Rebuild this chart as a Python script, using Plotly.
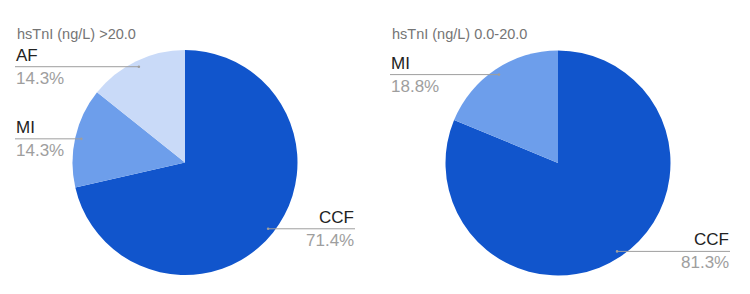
import math
import plotly.graph_objects as go

W, H = 750, 294

titles = ["hsTnI (ng/L) >20.0", "hsTnI (ng/L) 0.0-20.0"]
left_labels = ["CCF", "MI", "AF"]
left_values = [5, 1, 1]
left_pct = ["71.4%", "14.3%", "14.3%"]
right_labels = ["CCF", "MI"]
right_values = [13, 3]
right_pct = ["81.3%", "18.8%"]
colors = {"CCF": "#1155cc", "MI": "#6d9eeb", "AF": "#c9daf8"}

# layout geometry (pixels)
panel_x = [0, 375]
centers = [(185, 162.5), (558, 163)]
R = 112.5
label_left_off = 15
label_right_off = 355

fig = go.Figure()
shapes = []
annotations = []

def px(x):
    return x / W

def py(y):
    return 1 - y / H

panels = [(left_labels, left_values, left_pct), (right_labels, right_values, right_pct)]
for i, (labs, vals, pcts) in enumerate(panels):
    cx, cy = centers[i]
    fig.add_trace(go.Pie(
        labels=labs, values=vals, sort=False, direction="clockwise", rotation=0,
        marker=dict(colors=[colors[l] for l in labs], line=dict(width=0)),
        textinfo="none", hoverinfo="label+percent", showlegend=False,
        domain=dict(x=[px(cx - R), px(cx + R)], y=[py(cy + R), py(cy - R)]),
    ))
    annotations.append(dict(
        text=titles[i], x=px(panel_x[i] + label_left_off), y=py(24), xref="paper", yref="paper",
        xanchor="left", yanchor="top", showarrow=False,
        font=dict(family="Liberation Sans, Arial", size=14.5, color="#757575"),
    ))
    total = sum(vals)
    cum = 0
    for lab, v, pct in zip(labs, vals, pcts):
        mid = (cum + v / 2) / total * 2 * math.pi
        cum += v
        d = 0.945 * R
        dx, dy = math.sin(mid) * d, -math.cos(mid) * d
        x0, y0 = cx + dx, cy + dy
        if dx < 0:
            xl = panel_x[i] + label_left_off
            anchor = "left"
        else:
            xl = panel_x[i] + label_right_off
            anchor = "right"
        shapes.append(dict(type="line", xref="paper", yref="paper",
                           x0=px(x0), y0=py(y0), x1=px(xl), y1=py(y0),
                           line=dict(color="#9e9e9e", width=1)))
        shapes.append(dict(type="circle", xref="paper", yref="paper",
                           x0=px(x0 - 1.3), y0=py(y0 - 1.3), x1=px(x0 + 1.3), y1=py(y0 + 1.3),
                           fillcolor="#9e9e9e", line=dict(width=0)))
        annotations.append(dict(
            text=lab, x=px(xl), y=py(y0 - 1), xref="paper", yref="paper",
            xanchor=anchor, yanchor="bottom", showarrow=False,
            font=dict(family="Liberation Sans, Arial", size=17, color="#222222"),
            borderpad=0,
        ))
        annotations.append(dict(
            text=pct, x=px(xl), y=py(y0 + 1), xref="paper", yref="paper",
            xanchor=anchor, yanchor="top", showarrow=False,
            font=dict(family="Liberation Sans, Arial", size=17, color="#9e9e9e"),
            borderpad=0,
        ))

fig.update_layout(
    width=W, height=H, margin=dict(l=0, r=0, t=0, b=0),
    paper_bgcolor="white", plot_bgcolor="white",
    shapes=shapes, annotations=annotations,
)
fig.write_html("out.html")
